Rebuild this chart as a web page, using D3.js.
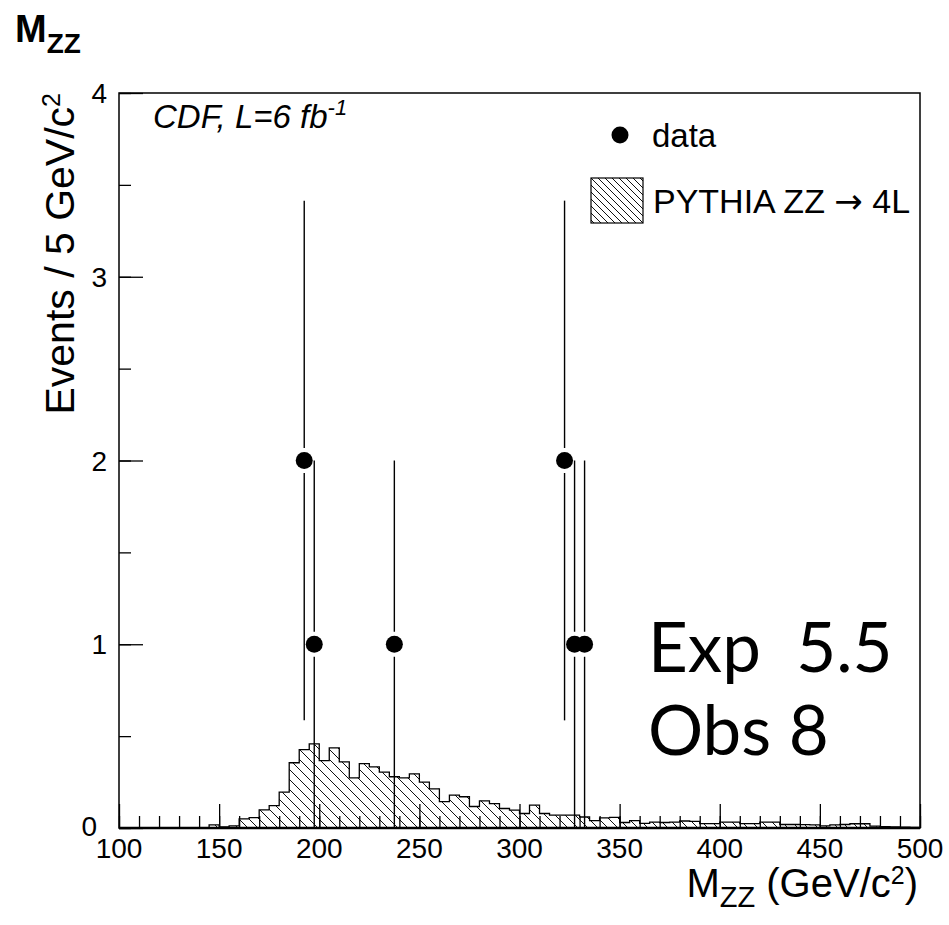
<!DOCTYPE html>
<html>
<head>
<meta charset="utf-8">
<script src="https://cdn.jsdelivr.net/npm/d3@7"></script>
<style>
  html, body { margin: 0; padding: 0; background: #fff; }
  svg { display: block; }
  text { font-family: "Liberation Sans", Arial, Helvetica, sans-serif; fill: #000; }
</style>
</head>
<body>
<svg id="chart" width="949" height="925"></svg>
<script>
// ZZ -> 4l invariant mass: PYTHIA expectation (5 GeV bins from 100 GeV) and observed events
const binWidth = 5;
const binStart = 100;
const mcValues = [
  0, 0, 0, 0, 0, 0, 0, 0, 0,
  0.017, 0.006, 0.012, 0.050, 0.057, 0.099, 0.122, 0.195, 0.355, 0.427,
  0.458, 0.367, 0.436, 0.360, 0.273, 0.350, 0.333, 0.304, 0.279, 0.273,
  0.295, 0.250, 0.213, 0.143, 0.179, 0.170, 0.117, 0.148, 0.133, 0.106,
  0.097, 0.079, 0.124, 0.079, 0.070, 0.070, 0.070, 0.060, 0.040, 0.055,
  0.058, 0.030, 0.040, 0.025, 0.032, 0.030, 0.032, 0.038, 0.036, 0.024,
  0.024, 0.032, 0.032, 0.024, 0.024, 0.032, 0.032, 0.019, 0.019, 0.018,
  0.017, 0.012, 0.017, 0.019, 0.023, 0.023, 0.010, 0.008, 0.006, 0.004,
  0.003
];
const dataMass = [192.5, 197.5, 237.5, 322.5, 327.5, 332.5];
const dataCounts = [2, 1, 1, 2, 1, 1];
const xTickValues = [100, 150, 200, 250, 300, 350, 400, 450, 500];
const yTickValues = [0, 1, 2, 3, 4];

const svg = d3.select("#chart");
const frame = { left: 119, right: 920, top: 93, bottom: 828 };

const x = d3.scaleLinear().domain([100, 500]).range([frame.left, frame.right]);
const y = d3.scaleLinear().domain([0, 4]).range([frame.bottom, frame.top]);

// hatch patterns: "\" diagonals repeating every `step` px
const defs = svg.append("defs");
function hatch(id, step) {
  const p = defs.append("pattern")
    .attr("id", id).attr("patternUnits", "userSpaceOnUse")
    .attr("width", step).attr("height", step);
  p.append("path")
    .attr("d", `M-1,-1 L${step + 1},${step + 1} M-1,${step - 1} L1,${step + 1} M${step - 1},-1 L${step + 1},1`)
    .attr("stroke", "#111").attr("stroke-width", 1).attr("fill", "none");
}
hatch("hatchHist", 10);
hatch("hatchLegend", 7);

// histogram as a hatched step outline
const bins = mcValues.map((v, i) => ({ x0: binStart + i * binWidth, x1: binStart + (i + 1) * binWidth, v }));
const stepPts = [];
bins.forEach(b => { stepPts.push([b.x0, b.v]); stepPts.push([b.x1, b.v]); });
const area = d3.area().x(d => x(d[0])).y0(y(0)).y1(d => y(d[1]));
const line = d3.line().x(d => x(d[0])).y(d => y(d[1]));

svg.append("path").datum(stepPts)
  .attr("d", area).attr("fill", "url(#hatchHist)").attr("stroke", "none");
svg.append("path").datum(stepPts)
  .attr("d", line).attr("fill", "none").attr("stroke", "#000").attr("stroke-width", 1.3);

// axes with inward ticks
const xAxisMinor = d3.axisTop(x).tickValues(d3.range(100, 501, 10)).tickSize(12).tickFormat("");
const xAxisMajor = d3.axisTop(x).tickValues(xTickValues).tickSize(24).tickFormat("");
[xAxisMinor, xAxisMajor].forEach(ax => {
  const g = svg.append("g").attr("transform", `translate(0,${frame.bottom})`).call(ax);
  g.select(".domain").remove();
  g.selectAll("line").attr("stroke", "#000").attr("stroke-width", 1.3);
});
const yAxisMinor = d3.axisRight(y).tickValues(d3.range(0, 4.01, 0.5)).tickSize(12).tickFormat("");
const yAxisMajor = d3.axisRight(y).tickValues(yTickValues).tickSize(24).tickFormat("");
[yAxisMinor, yAxisMajor].forEach(ax => {
  const g = svg.append("g").attr("transform", `translate(${frame.left},0)`).call(ax);
  g.select(".domain").remove();
  g.selectAll("line").attr("stroke", "#000").attr("stroke-width", 1.3);
});

// frame
svg.append("rect")
  .attr("x", frame.left).attr("y", frame.top)
  .attr("width", frame.right - frame.left).attr("height", frame.bottom - frame.top)
  .attr("fill", "none").attr("stroke", "#000").attr("stroke-width", 1.5);
svg.append("line")
  .attr("x1", frame.left).attr("x2", frame.right)
  .attr("y1", frame.bottom).attr("y2", frame.bottom)
  .attr("stroke", "#000").attr("stroke-width", 2.5);

// tick labels
svg.append("g").selectAll("text").data(xTickValues).join("text")
  .attr("x", d => x(d)).attr("y", 858)
  .attr("text-anchor", "middle").attr("font-size", 28)
  .text(d => d);
svg.append("g").selectAll("text").data(yTickValues).join("text")
  .attr("x", d => d === 0 ? 97 : 107)
  .attr("y", d => y(d) + (d === 0 ? 8 : 10))
  .attr("text-anchor", "end").attr("font-size", 28)
  .text(d => d);

// data points with sqrt(N) error bars, gap around the marker
const markerR = 8.5, gap = 12.5;
const pts = dataMass.map((m, i) => ({ m, n: dataCounts[i], e: Math.sqrt(dataCounts[i]) }));
const gData = svg.append("g");
pts.forEach(p => {
  const cx = x(p.m), cy = y(p.n);
  const top = y(p.n + p.e), bot = y(Math.max(0, p.n - p.e));
  gData.append("line").attr("x1", cx).attr("x2", cx).attr("y1", top).attr("y2", cy - gap)
    .attr("stroke", "#000").attr("stroke-width", 1.4);
  gData.append("line").attr("x1", cx).attr("x2", cx).attr("y1", cy + gap).attr("y2", bot)
    .attr("stroke", "#000").attr("stroke-width", 1.4);
});
gData.selectAll("circle").data(pts).join("circle")
  .attr("cx", d => x(d.m)).attr("cy", d => y(d.n)).attr("r", markerR).attr("fill", "#000");

// legend
svg.append("circle").attr("cx", 620).attr("cy", 135).attr("r", markerR).attr("fill", "#000");
svg.append("text").attr("x", 652).attr("y", 147).attr("font-size", 33).text("data");
svg.append("rect").attr("x", 591).attr("y", 178).attr("width", 52).attr("height", 45)
  .attr("fill", "url(#hatchLegend)").attr("stroke", "#000").attr("stroke-width", 1.2);
const lg = svg.append("text").attr("x", 653).attr("y", 213).attr("font-size", 34);
lg.append("tspan").text("PYTHIA ZZ ");
lg.append("tspan").style("font-family", "'DejaVu Sans', sans-serif").attr("font-size", 34).text("\u2192");
lg.append("tspan").text(" 4L");

// experiment label
const cdf = svg.append("text").attr("x", 153).attr("y", 128).attr("font-size", 33).attr("font-style", "italic");
cdf.append("tspan").text("CDF, L=6 fb");
cdf.append("tspan").attr("font-size", 22).attr("dy", -13).text("-1");

// expected / observed
svg.append("text").attr("x", 648).attr("y", 672)
  .style("font-family", "Lato, 'Open Sans', sans-serif").attr("font-size", 69)
  .style("white-space", "pre").text("Exp  5.5");
svg.append("text").attr("x", 648).attr("y", 755)
  .style("font-family", "Lato, 'Open Sans', sans-serif").attr("font-size", 69)
  .text("Obs 8");

// axis titles
const xt = svg.append("text").attr("x", 918).attr("y", 897).attr("text-anchor", "end").attr("font-size", 40);
xt.append("tspan").text("M");
xt.append("tspan").attr("font-size", 29).attr("dy", 10).text("ZZ");
xt.append("tspan").attr("dy", -10).text(" (GeV/c");
xt.append("tspan").attr("font-size", 25).attr("dy", -13).text("2");
xt.append("tspan").attr("dy", 13).text(")");

const yt = svg.append("text").attr("transform", "translate(74,93) rotate(-90)")
  .attr("text-anchor", "end").attr("font-size", 41);
yt.append("tspan").text("Events / 5 GeV/c");
yt.append("tspan").attr("font-size", 25).attr("dy", -14).text("2");

// plot title
const tt = svg.append("text").attr("x", 15).attr("y", 42).attr("font-size", 38).attr("font-weight", "bold");
tt.append("tspan").text("M");
tt.append("tspan").attr("font-size", 28).attr("dy", 11).text("ZZ");
</script>
</body>
</html>
